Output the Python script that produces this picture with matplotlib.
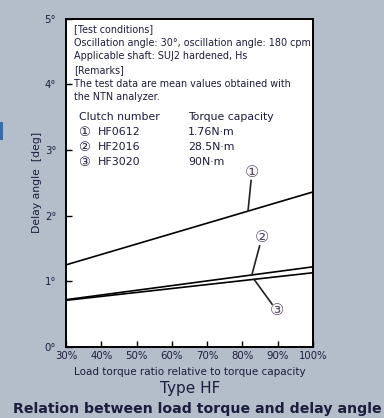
import matplotlib.pyplot as plt
import matplotlib.patches as mpatches

# chart values
load_ratio = [30, 100]
delay_hf0612 = [1.25, 2.36]
delay_hf2016 = [0.72, 1.22]
delay_hf3020 = [0.71, 1.13]

x_ticks = [30, 40, 50, 60, 70, 80, 90, 100]
x_labels = ["30%", "40%", "50%", "60%", "70%", "80%", "90%", "100%"]
y_ticks = [0, 1, 2, 3, 4, 5]
y_labels = ["0°", "1°", "2°", "3°", "4°", "5°"]

clutch_numbers = ["HF0612", "HF2016", "HF3020"]
torque_capacity = ["1.76N·m", "28.5N·m", "90N·m"]
marks = ["①", "②", "③"]

BG = "#b4becb"
INK = "#1c1c3c"
FONT = ["DejaVu Sans"]
MARKF = ["DejaVu Sans", "Noto Sans CJK JP"]

fig = plt.figure(figsize=(3.84, 4.18), dpi=100, facecolor=BG)
ax = fig.add_axes([0.1719, 0.1699, 0.643, 0.7858])
ax.set_facecolor("white")

for ys in (delay_hf0612, delay_hf2016, delay_hf3020):
    ax.plot(load_ratio, ys, color="black", lw=1.2)

ax.set_xlim(30, 100)
ax.set_ylim(0, 5)
ax.set_xticks(x_ticks)
ax.set_xticklabels(x_labels, family=FONT, fontsize=7.3, color=INK)
ax.set_yticks(y_ticks)
ax.set_yticklabels(y_labels, family=FONT, fontsize=7.3, color=INK)
ax.tick_params(direction="in", length=4, width=1, pad=3)
ax.tick_params(axis="y", pad=7)
for s in ax.spines.values():
    s.set_linewidth(1.4)

ax.set_xlabel("Load torque ratio relative to torque capacity", family=FONT,
              fontsize=7.5, color=INK, labelpad=4)
ax.set_ylabel("Delay angle  [deg]", family=FONT, fontsize=7.8, color=INK, labelpad=2)

# callouts with leader lines
callouts = [((81.6, 2.07), (82.7, 2.66)),
            ((82.7, 1.10), (85.5, 1.66)),
            ((83.3, 1.03), (89.8, 0.55))]
for m, (p0, p1) in zip(marks, callouts):
    ax.plot([p0[0], p1[0]], [p0[1], p1[1]], color="#222222", lw=1.2)
    ax.text(p1[0], p1[1], m, family=MARKF, fontsize=11.5, color="#5a4a66",
            ha="center", va="center",
            bbox=dict(boxstyle="circle,pad=0.0", fc="white", ec="none"))

# notes in the box
notes = ["[Test conditions]",
         "Oscillation angle: 30°, oscillation angle: 180 cpm",
         "Applicable shaft: SUJ2 hardened, Hs",
         "[Remarks]",
         "The test data are mean values obtained with",
         "the NTN analyzer."]
for i, t in enumerate(notes):
    ax.text(0.033, 0.968 - i * 0.0415, t, transform=ax.transAxes, family=FONT,
            fontsize=6.9, color=INK, va="center")

ax.text(0.053, 0.70, "Clutch number", transform=ax.transAxes, family=FONT,
        fontsize=7.8, color=INK, va="center")
ax.text(0.494, 0.70, "Torque capacity", transform=ax.transAxes, family=FONT,
        fontsize=7.8, color=INK, va="center")
for i, (m, c, tq) in enumerate(zip(marks, clutch_numbers, torque_capacity)):
    yy = 0.654 - i * 0.0455
    ax.text(0.05, yy, m, transform=ax.transAxes, family=MARKF, fontsize=9.5,
            color=INK, va="center")
    ax.text(0.13, yy, c, transform=ax.transAxes, family=FONT, fontsize=7.9,
            color=INK, va="center")
    ax.text(0.494, yy, tq, transform=ax.transAxes, family=FONT, fontsize=7.9,
            color=INK, va="center")

fig.text(0.495, 1 - 389 / 418, "Type HF", family=FONT, fontsize=11, color=INK,
         ha="center", va="center")
fig.text(0.513, 1 - 409 / 418, "Relation between load torque and delay angle",
         fontsize=10.2, fontweight="bold", color=INK, ha="center", va="center")

# cropped fragment on the left edge
fig.patches.append(mpatches.Rectangle((0, 1 - 140 / 418), 3 / 384, 18 / 418,
                                      transform=fig.transFigure, fc="#3a6aa8",
                                      ec="none"))

fig.savefig("out.png", dpi=100, facecolor=BG)
